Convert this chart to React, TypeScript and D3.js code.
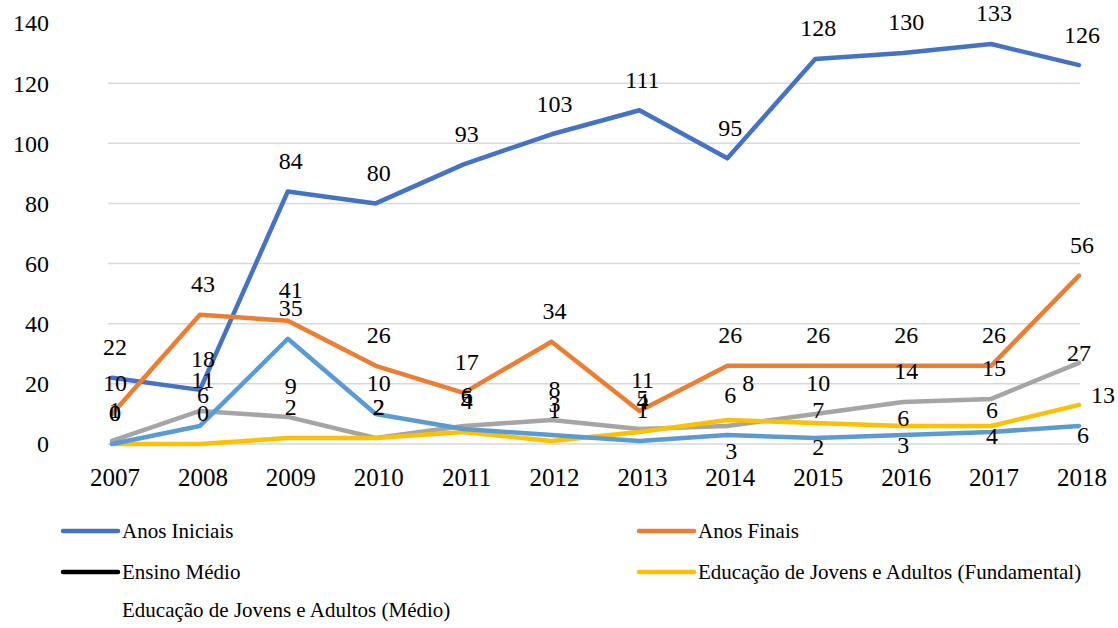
import React from "react";
import * as d3 from "d3";

const years = ["2007", "2008", "2009", "2010", "2011", "2012", "2013", "2014", "2015", "2016", "2017", "2018"];
const anosIniciais = [22, 18, 84, 80, 93, 103, 111, 95, 128, 130, 133, 126];
const anosFinais = [10, 43, 41, 26, 17, 34, 11, 26, 26, 26, 26, 56];
const ensinoMedio = [1, 11, 9, 2, 6, 8, 5, 6, 10, 14, 15, 27];
const ejaFundamental = [0, 0, 2, 2, 4, 1, 4, 8, 7, 6, 6, 13];
const ejaMedio = [0, 6, 35, 10, 5, 3, 1, 3, 2, 3, 4, 6];
const yTicks = [0, 20, 40, 60, 80, 100, 120, 140];
const gridTicks = [0, 20, 40, 60, 80, 100, 120];

const seriesNames = [
  "Anos Iniciais",
  "Anos Finais",
  "Ensino Médio",
  "Educação de Jovens e Adultos (Fundamental)",
  "Educação de Jovens e Adultos (Médio)",
];

const FONT = "'Liberation Serif', 'Times New Roman', serif";

// label position tweaks (style only): [seriesIndex, yearIndex] -> offsets from point
const labelTweaks: Record<string, { dx: number; dy: number }> = {
  "4-7": { dx: 4, dy: 16 },
  "4-8": { dx: 3, dy: 9 },
  "4-9": { dx: 0, dy: 10 },
  "4-10": { dx: 1, dy: 4 },
  "4-11": { dx: 4, dy: 9 },
  "2-11": { dx: 0, dy: -10 },
  "3-11": { dx: 24, dy: -10 },
  "3-7": { dx: 21, dy: -37 },
  "3-8": { dx: 3, dy: -13 },
  "3-9": { dx: 0, dy: -8 },
  "3-10": { dx: 1, dy: -16 },
};

export default function App() {
  const width = 1118;
  const height = 628;
  const x = d3.scalePoint<string>().domain(years).range([112, 1079]);
  const y = d3.scaleLinear().domain([0, 140]).range([444, 23]);

  const series = [
    { name: seriesNames[0], values: anosIniciais, color: "#4472C4", legendColor: "#4472C4" },
    { name: seriesNames[1], values: anosFinais, color: "#ED7D31", legendColor: "#ED7D31" },
    { name: seriesNames[2], values: ensinoMedio, color: "#A5A5A5", legendColor: "#000000" },
    { name: seriesNames[3], values: ejaFundamental, color: "#FFC000", legendColor: "#FFC000" },
    { name: seriesNames[4], values: ejaMedio, color: "#5B9BD5", legendColor: null as string | null },
  ];

  const line = d3
    .line<number>()
    .x((_, i) => x(years[i]) as number)
    .y((d) => y(d));

  const legendPos = [
    { lx: 63, ly: 531 },
    { lx: 639, ly: 531 },
    { lx: 63, ly: 572 },
    { lx: 639, ly: 572 },
    { lx: 63, ly: 610 },
  ];

  return (
    <div style={{ position: "absolute", left: 0, top: 0 }}>
      <svg width={width} height={height} style={{ display: "block", background: "#fff" }}>
        <rect x={0} y={0} width={width} height={height} fill="#ffffff" />
        {gridTicks.map((t) => (
          <line key={"g" + t} x1={108} x2={1080} y1={y(t)} y2={y(t)} stroke="#D9D9D9" strokeWidth={1.5} />
        ))}
        {yTicks.map((t) => (
          <text
            key={"yt" + t}
            x={49}
            y={y(t)}
            dy="0.35em"
            textAnchor="end"
            fontFamily={FONT}
            fontSize={24}
            fill="#000"
          >
            {t}
          </text>
        ))}
        {years.map((yr) => (
          <text
            key={"xt" + yr}
            x={(x(yr) as number) + 3}
            y={477}
            dy="0.35em"
            textAnchor="middle"
            fontFamily={FONT}
            fontSize={25}
            fill="#000"
          >
            {yr}
          </text>
        ))}
        {series.map((s) => (
          <path
            key={"l" + s.name}
            d={line(s.values) || ""}
            fill="none"
            stroke={s.color}
            strokeWidth={4.5}
            strokeLinejoin="round"
            strokeLinecap="round"
          />
        ))}
        {series.map((s, si) =>
          s.values.map((v, i) => {
            const tw = labelTweaks[si + "-" + i] || { dx: 3, dy: -31 };
            return (
              <text
                key={"lab" + si + "-" + i}
                x={(x(years[i]) as number) + tw.dx}
                y={y(v) + tw.dy}
                dy="0.35em"
                textAnchor="middle"
                fontFamily={FONT}
                fontSize={24}
                fill="#000"
              >
                {v}
              </text>
            );
          })
        )}
        {series.map((s, si) => {
          const p = legendPos[si];
          return (
            <g key={"lg" + si}>
              {s.legendColor && (
                <line
                  x1={p.lx}
                  x2={p.lx + 55}
                  y1={p.ly}
                  y2={p.ly}
                  stroke={s.legendColor}
                  strokeWidth={4.5}
                  strokeLinecap="round"
                />
              )}
              <text
                x={p.lx + 59}
                y={p.ly}
                dy="0.35em"
                fontFamily={FONT}
                fontSize={21}
                fill="#000"
              >
                {s.name}
              </text>
            </g>
          );
        })}
      </svg>
    </div>
  );
}
